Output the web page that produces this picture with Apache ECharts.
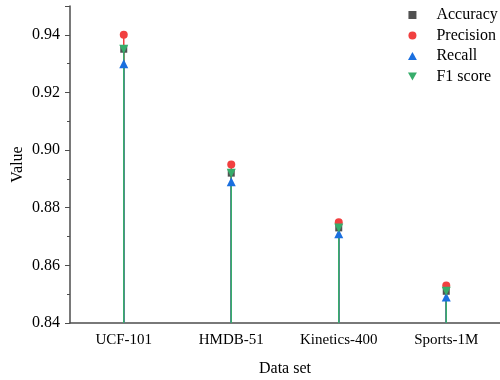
<!DOCTYPE html>
<html>
<head>
<meta charset="utf-8">
<script src="https://cdn.jsdelivr.net/npm/echarts@6/dist/echarts.min.js"></script>
<style>
  html, body { margin: 0; padding: 0; background: #fff; }
  #chart { width: 500px; height: 380px; }
</style>
</head>
<body>
<div id="chart"></div>
<script>
const categories = ['UCF-101', 'HMDB-51', 'Kinetics-400', 'Sports-1M']
const accuracy = [0.935, 0.892, 0.873, 0.851]
const precision = [0.940, 0.895, 0.875, 0.853]
const recall = [0.930, 0.889, 0.871, 0.849]
const f1Score = [0.935, 0.892, 0.873, 0.851]

const font = 'Liberation Serif'
const axisColor = '#4d4d4d'
const square = 'path://M0,0 L10,0 L10,10 L0,10 Z'
const upTriangle = 'path://M5,0 L10,9 L0,9 Z'
const downTriangle = 'path://M0,0 L10,0 L5,9 Z'

const metrics = [
  {name: 'Accuracy', data: accuracy, color: '#515151', symbol: square, size: 7},
  {name: 'Precision', data: precision, color: '#F14040', symbol: 'circle', size: 8},
  {name: 'Recall', data: recall, color: '#1A6FDF', symbol: upTriangle, size: 9},
  {name: 'F1 score', data: f1Score, color: '#37AD6B', symbol: downTriangle, size: 9}
]

// thin bars act as the drop lines, scatter gives the markers
const stems = metrics.map(m => ({
  name: m.name + ' stem',
  type: 'bar',
  data: m.data,
  barWidth: 1.5,
  barGap: '-100%',
  itemStyle: {color: m.color},
  silent: true
}))

const points = metrics.map(m => ({
  name: m.name,
  type: 'scatter',
  data: m.data,
  symbol: m.symbol,
  symbolSize: m.size,
  itemStyle: {color: m.color, opacity: 1},
  z: 3
}))

const option = {
  animation: false,
  textStyle: {fontFamily: font},
  grid: {left: 70, right: 0, top: 6, bottom: 57, outerBoundsMode: 'none'},
  legend: {
    data: metrics.map(m => ({name: m.name, icon: m.symbol})),
    orient: 'vertical',
    left: 403,
    top: 2,
    itemWidth: 38,
    itemHeight: 8,
    itemGap: 4.5,
    symbolKeepAspect: true,
    textStyle: {fontFamily: font, fontSize: 16, color: '#000'}
  },
  xAxis: [
    {
      type: 'category',
      data: categories,
      name: 'Data set',
      nameLocation: 'middle',
      nameGap: 38,
      nameTextStyle: {fontFamily: font, fontSize: 16, color: '#000'},
      axisLine: {lineStyle: {color: axisColor, width: 1.5}},
      axisTick: {alignWithLabel: true, length: 5, lineStyle: {color: axisColor}},
      axisLabel: {fontFamily: font, fontSize: 15, color: '#000', margin: 10}
    },
    {
      type: 'category',
      data: categories,
      position: 'bottom',
      axisLine: {show: false},
      axisTick: {length: 3, lineStyle: {color: axisColor}},
      axisLabel: {show: false}
    }
  ],
  yAxis: {
    type: 'value',
    min: 0.84,
    max: 0.95,
    interval: 0.02,
    name: 'Value',
    nameLocation: 'middle',
    nameGap: 44,
    nameMoveOverlap: false,
    nameTextStyle: {fontFamily: font, fontSize: 16, color: '#000'},
    axisLine: {show: true, lineStyle: {color: axisColor, width: 1.5}},
    axisTick: {show: true, length: 5, lineStyle: {color: axisColor}},
    minorTick: {show: true, splitNumber: 2, length: 3, lineStyle: {color: axisColor}},
    splitLine: {show: false},
    axisLabel: {
      fontFamily: font, fontSize: 16, color: '#000', margin: 10,
      showMaxLabel: false,
      formatter: v => v.toFixed(2)
    }
  },
  series: stems.concat(points)
}

const chart = echarts.init(document.getElementById('chart'))
chart.setOption(option)
</script>
</body>
</html>
